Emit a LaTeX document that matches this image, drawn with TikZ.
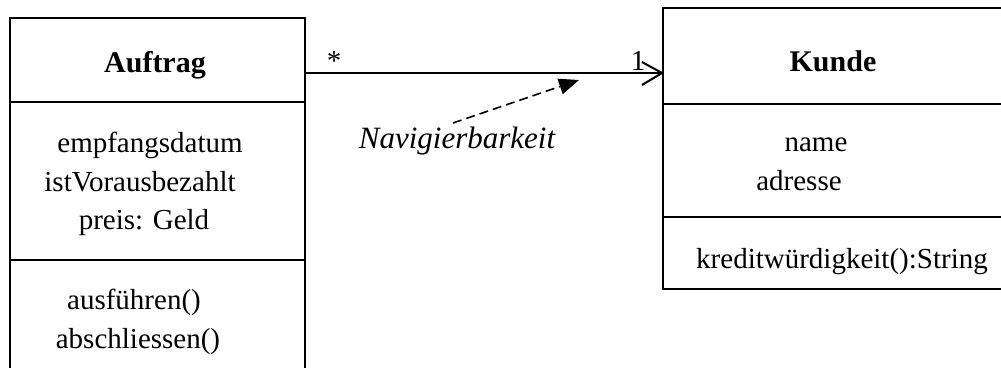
\documentclass[tikz,border=0pt]{standalone}
\usepackage{fontspec}
\setmainfont{Liberation Serif}
\usetikzlibrary{arrows.meta}
\tikzset{
  classbox/.style={draw, line width=2pt, inner sep=0pt, rectangle},
  divider/.style={line width=2pt},
  txt/.style={inner sep=0pt, anchor=base, font=\fontsize{29}{35}\selectfont},
  title/.style={txt, font=\fontsize{30}{36}\selectfont\bfseries},
  assoc/.style={line width=2pt},
  note/.style={line width=1.6pt, dash pattern=on 9pt off 5pt,
    -{Triangle[length=20pt,width=16pt]}}
}
\begin{document}
\begin{tikzpicture}[x=1pt,y=-1pt]
\useasboundingbox (0,0) rectangle (1001,367);
\clip (0,0) rectangle (1001,367);
\fill[white] (0,0) rectangle (1001,367);

% class Auftrag (runs past the lower edge)
\node[classbox, minimum width=295pt, minimum height=402pt] (auftrag) at (157.5,219) {};
\draw[divider] (auftrag.west |- 0,102) -- (auftrag.east |- 0,102);
\draw[divider] (auftrag.west |- 0,260) -- (auftrag.east |- 0,260);
\node[title] (auftragname) at (155,72) {Auftrag};
\node[txt] (a1) at (150,152) {empfangsdatum};
\node[txt] (a2) at (140,191) {istVorausbezahlt};
\node[txt] (a3) at (144,229) {preis: Geld};
\node[txt] (a4) at (134,309) {ausführen()};
\node[txt] (a5) at (138,348) {abschliessen()};

% class Kunde (runs past the right edge)
\node[classbox, minimum width=387pt, minimum height=281pt] (kunde) at (856.5,148.5) {};
\draw[divider] (kunde.west |- 0,104) -- (kunde.east |- 0,104);
\draw[divider] (kunde.west |- 0,217) -- (kunde.east |- 0,217);
\node[title] (kundename) at (833,71) {Kunde};
\node[txt] (k1) at (816,151) {name};
\node[txt] (k2) at (799,190) {adresse};
\node[txt] (k3) at (842,268) {kreditwürdigkeit():String};

% directed association Auftrag -> Kunde
\coordinate (assocA) at (auftrag.east |- 0,73);
\coordinate (assocK) at (kunde.west |- 0,73);
\draw[assoc] (assocA) -- (assocK);
\draw[assoc, line join=miter] (assocK) ++(-20,-11) -- (assocK) -- ++(-20,12);
\node[txt] (multA) at (334,70) {*};
\node[txt] (multK) at (638,70) {1};

% navigability note
\node[txt, font=\fontsize{31}{36}\selectfont\itshape] (nav) at (457,148) {Navigierbarkeit};
\coordinate (navstart) at (453,123);
\coordinate (navtip) at (579,80);
\draw[note] (navstart) -- (navtip);
\end{tikzpicture}
\end{document}
